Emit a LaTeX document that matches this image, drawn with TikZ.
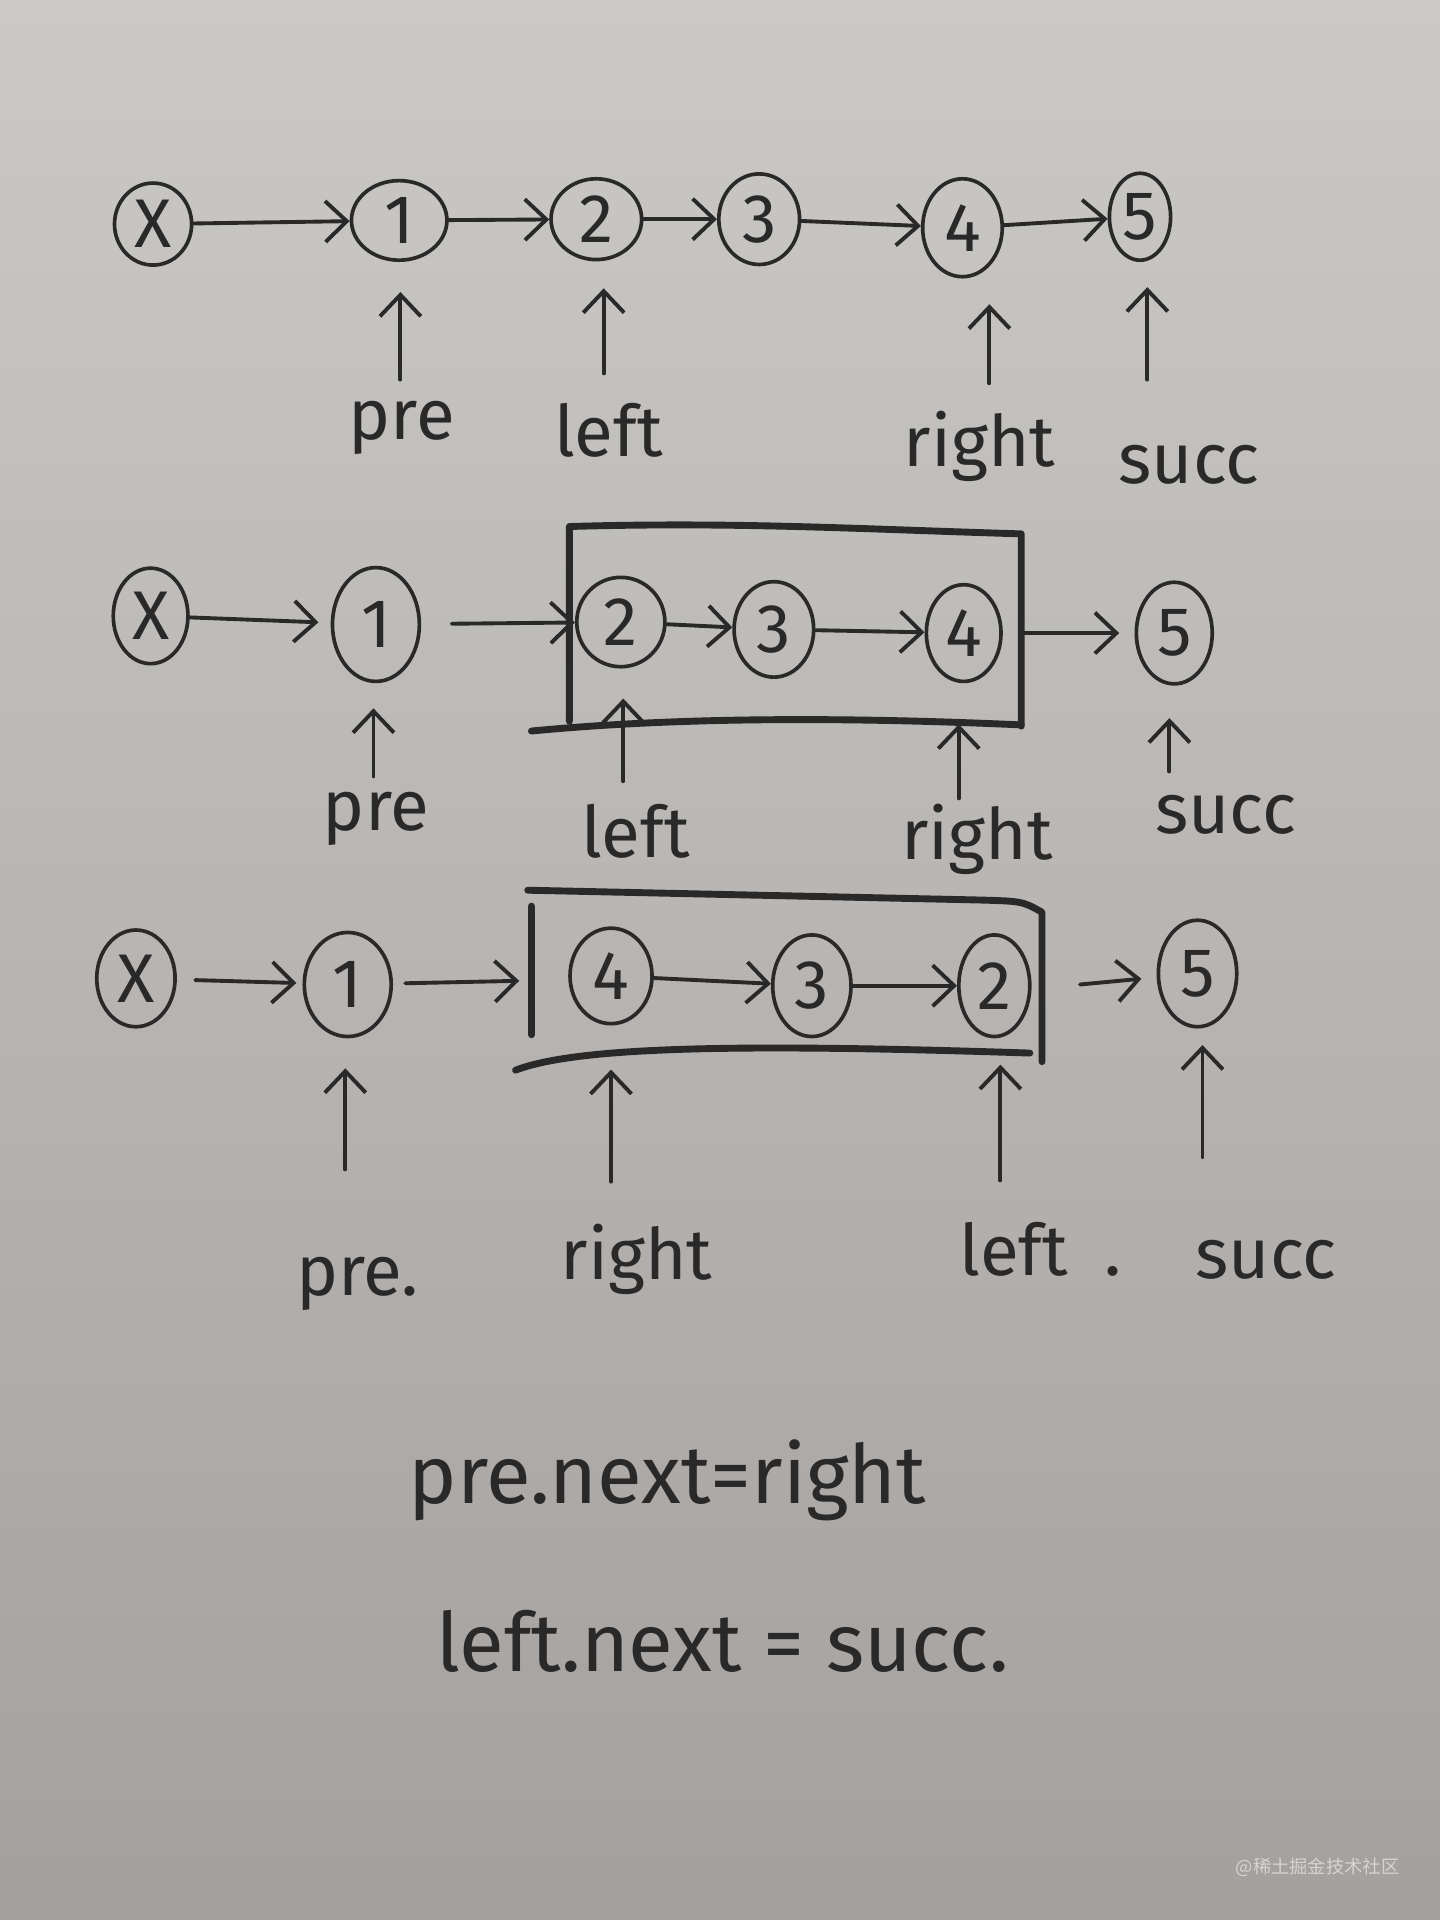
\documentclass[tikz,border=0pt]{standalone}
\usepackage{fontspec}
\setmainfont{Fira Sans}
\newfontfamily\cjkfont{Noto Sans CJK SC}
\usetikzlibrary{arrows.meta,shapes.geometric}
\definecolor{ink}{RGB}{42,41,41}
\definecolor{papertop}{RGB}{203,201,198}
\definecolor{paperbot}{RGB}{164,160,158}
\definecolor{mark}{RGB}{214,212,211}

\begin{document}
\begin{tikzpicture}[x=0.02cm, y=-0.02cm,
  nd/.style={shape=ellipse, draw=ink, line width=1.7pt, inner sep=0pt, text=ink, font=\fontsize{32}{32}\selectfont},
  lbl/.style={text=ink, inner sep=0pt, anchor=base, font=\fontsize{33}{36}\selectfont},
  eq/.style={text=ink, inner sep=0pt, anchor=base, font=\fontsize{38}{42}\selectfont},
  arr/.style={-{Straight Barb[length=10pt, width=19pt]}, line width=1.8pt, draw=ink, line cap=round},
  boxln/.style={line width=3.2pt, draw=ink, line cap=round, line join=round}]
\useasboundingbox (0,0) rectangle (1176,1568);
\shade[top color=papertop, bottom color=paperbot] (0,0) rectangle (1176,1568);
% first row
\node[nd, minimum width=1.26cm, minimum height=1.34cm] (a0) at (125,183) {X};
\node[nd, minimum width=1.56cm, minimum height=1.30cm] (a1) at (326,180) {1};
\node[nd, minimum width=1.48cm, minimum height=1.32cm] (a2) at (487,179) {2};
\node[nd, minimum width=1.32cm, minimum height=1.48cm] (a3) at (620,179) {3};
\node[nd, minimum width=1.30cm, minimum height=1.60cm] (a4) at (786,186) {4};
\node[nd, minimum width=1.00cm, minimum height=1.42cm] (a5) at (931,177) {5};
\path[arr] (a0) edge (a1);
\path[arr] (a1) edge (a2);
\path[arr] (a2) edge (a3);
\path[arr] (a3) edge (a4);
\path[arr] (a4) edge (a5);
\node[lbl] (pa) at (328,359) {pre};
\node[lbl] (la) at (497,373) {left};
\node[lbl] (ra) at (800,381) {right};
\node[lbl] (sa) at (971,395) {succ};
\coordinate (tpa) at (327,310);
\coordinate (tla) at (493,305);
\coordinate (tra) at (808,313);
\coordinate (tsa) at (937,310);
\draw[arr, shorten >=0.49cm] (tpa) -- (tpa |- a1.south);
\draw[arr, shorten >=0.44cm] (tla) -- (tla |- a2.south);
\draw[arr, shorten >=0.42cm] (tra) -- (tra |- a4.south);
\draw[arr, shorten >=0.41cm] (tsa) -- (tsa |- a5.south);
% second row
\node[nd, minimum width=1.22cm, minimum height=1.56cm] (b0) at (123,503) {X};
\node[nd, minimum width=1.42cm, minimum height=1.86cm] (b1) at (307,510) {1};
\node[nd, minimum width=1.44cm, minimum height=1.46cm] (b2) at (507,508) {2};
\node[nd, minimum width=1.30cm, minimum height=1.56cm] (b3) at (632,514) {3};
\node[nd, minimum width=1.22cm, minimum height=1.58cm] (b4) at (787,517) {4};
\node[nd, minimum width=1.24cm, minimum height=1.66cm] (b5) at (959,517) {5};
\draw[boxln] (465,589) -- (465,430) .. controls (600,426) and (700,432) .. (834,436) -- (834,593);
\draw[boxln] (434,597) .. controls (560,585) and (700,586) .. (834,592);
\path[arr] (b0) edge[shorten >=0.2cm] (b1);
\path[arr] (b1) edge[shorten <=0.5cm] (b2);
\path[arr] (b2) edge (b3);
\path[arr] (b3) edge (b4);
\path[arr] (b4) edge[shorten <=0.3cm, shorten >=0.25cm] (b5);
\node[lbl] (pb) at (307,678) {pre};
\node[lbl] (lb) at (519,700) {left};
\node[lbl] (rb) at (798,702) {right};
\node[lbl] (sb) at (1001,681) {succ};
\coordinate (tpb) at (305,634);
\coordinate (tlb) at (509,638);
\coordinate (trb) at (783,652);
\coordinate (tsb) at (955,630);
\draw[arr, shorten >=0.41cm] (tpb) -- (tpb |- b1.south);
\draw[arr, shorten >=0.49cm] (tlb) -- (tlb |- b2.south);
\draw[arr, shorten >=0.67cm] (trb) -- (trb |- b4.south);
\draw[arr, shorten >=0.53cm] (tsb) -- (tsb |- b5.south);
% third row
\node[nd, minimum width=1.28cm, minimum height=1.58cm] (c0) at (111,799) {X};
\node[nd, minimum width=1.42cm, minimum height=1.70cm] (c1) at (284,804) {1};
\node[nd, minimum width=1.34cm, minimum height=1.56cm] (c4) at (499,797) {4};
\node[nd, minimum width=1.28cm, minimum height=1.66cm] (c3) at (663,805) {3};
\node[nd, minimum width=1.16cm, minimum height=1.66cm] (c2) at (812,805) {2};
\node[nd, minimum width=1.28cm, minimum height=1.74cm] (c5) at (978,795) {5};
\draw[boxln] (431,727) -- (800,735) .. controls (835,736) .. (851,745) -- (851,867);
\draw[boxln] (434,740) -- (434,845);
\draw[boxln] (421,874) .. controls (470,855) and (600,852) .. (841,860);
\coordinate (bl) at (424,801);
\coordinate (br) at (882,804);
\path[arr] (c0) edge[shorten <=0.3cm, shorten >=0.1cm] (c1);
\path[arr] (c1) edge[shorten <=0.2cm] (bl);
\path[arr] (c4) edge (c3);
\path[arr] (c3) edge (c2);
\draw[arr, shorten >=0.25cm] (br) -- (c5);
\node[lbl] (pc) at (292,1058) {pre.};
\node[lbl] (rc) at (520,1045) {right};
\node[lbl] (lc) at (850,1042) {left\hspace{0.6cm}.};
\node[lbl] (sc) at (1034,1044) {succ};
\coordinate (tpc) at (282,955);
\coordinate (trc) at (499,965);
\coordinate (tlc) at (817,964);
\coordinate (tsc) at (982,945);
\draw[arr, shorten >=0.49cm] (tpc) -- (tpc |- c1.south);
\draw[arr, shorten >=0.72cm] (trc) -- (trc |- c4.south);
\draw[arr, shorten >=0.43cm] (tlc) -- (tlc |- c2.south);
\draw[arr, shorten >=0.27cm] (tsc) -- (tsc |- c5.south);
% the two assignments
\node[eq] (e1) at (545,1228) {pre.next=right};
\node[eq] (e2) at (590,1365) {left.next = succ.};
\node[text=mark, inner sep=0pt, anchor=base, font=\cjkfont\fontsize{8.5}{9}\selectfont] (wm) at (1076,1530) {@稀土掘金技术社区};
\end{tikzpicture}
\end{document}
